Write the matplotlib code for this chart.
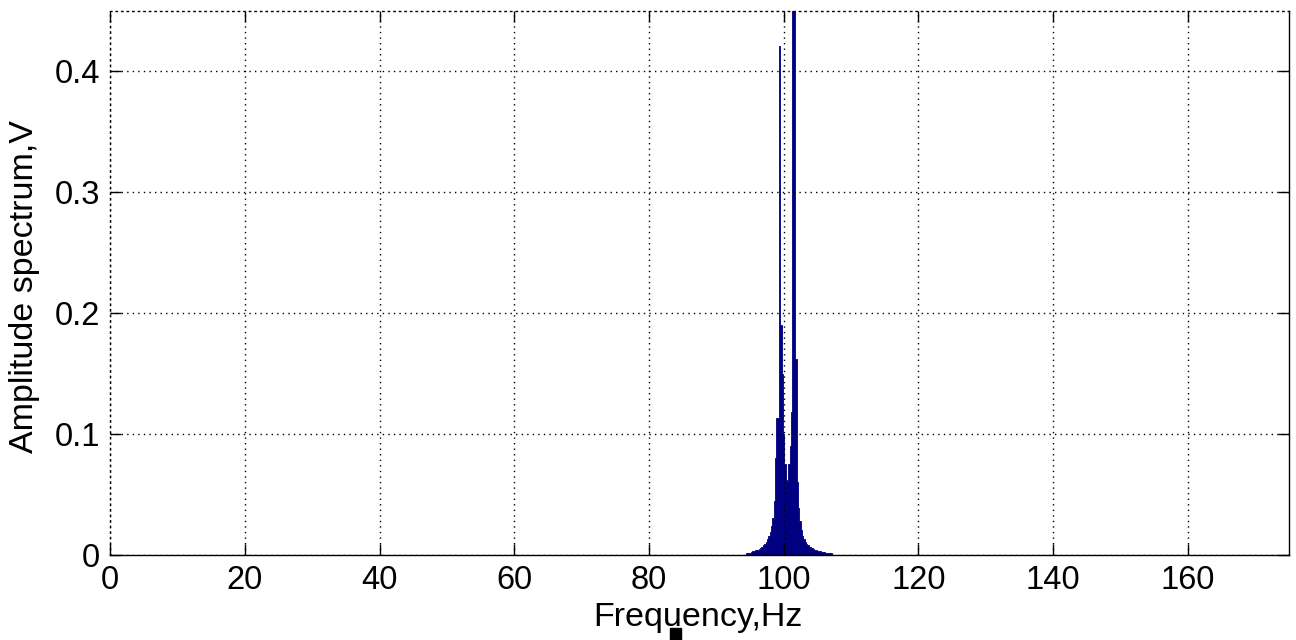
import matplotlib
matplotlib.use("Agg")
import matplotlib.pyplot as plt
from matplotlib.patches import Rectangle
import numpy as np

plt.rcParams["font.family"] = ["Liberation Sans", "DejaVu Sans"]

# amplitude spectrum around the 100 Hz carrier, 0.2 Hz bins
freq = np.round(np.arange(94.4, 107.21, 0.2), 1)
amp = [
    0.0015, 0.002, 0.002, 0.002, 0.0025, 0.003, 0.003, 0.004, 0.004, 0.0045,   # 94.4 - 96.2
    0.005, 0.006, 0.007, 0.008, 0.009, 0.011, 0.013, 0.016, 0.019, 0.024,       # 96.4 - 98.2
    0.031, 0.045, 0.080, 0.113, 0.113, 0.421, 0.190, 0.150, 0.100, 0.075,       # 98.4 - 100.2
    0.062, 0.061, 0.075, 0.090, 0.118, 0.700, 0.500, 0.162, 0.060, 0.039,       # 100.4 - 102.2
    0.028, 0.021, 0.016, 0.013, 0.011, 0.009, 0.008, 0.007, 0.0065, 0.006,      # 102.4 - 104.2
    0.005, 0.0045, 0.004, 0.0035, 0.003, 0.003, 0.0028, 0.0025, 0.0022, 0.002, # 104.4 - 106.2
    0.002, 0.0018, 0.0017, 0.0016, 0.0015,                                      # 106.4 - 107.2
]

xticks = [0, 20, 40, 60, 80, 100, 120, 140, 160]
yticks = [0, 0.1, 0.2, 0.3, 0.4]

fig = plt.figure(figsize=(12.96, 6.4), dpi=100)
ax = fig.add_axes([0.0849, 0.1328, 0.9097, 0.85])

ax.fill_between(freq, amp, step="mid", color="#000080", linewidth=0.6,
                edgecolor="#000080")

ax.set_xlim(0, 175)
ax.set_ylim(0, 0.45)
ax.set_xticks(xticks)
ax.set_yticks(yticks)
ax.set_xticklabels([str(t) for t in xticks])
ax.set_yticklabels(["0", "0.1", "0.2", "0.3", "0.4"])

ax.grid(True, color="black", linestyle=(0, (1, 3)), linewidth=1.0)
ax.tick_params(direction="in", length=8, width=1, labelsize=23.5, pad=7,
               top=True, right=True)

for side in ["bottom", "right"]:
    ax.spines[side].set_linewidth(1.0)
for side in ["left", "top"]:
    ax.spines[side].set_linestyle((0, (1, 3)))
    ax.spines[side].set_linewidth(1.0)

ax.set_xlabel("Frequency,Hz", fontsize=24.5, va="top")
ax.xaxis.set_label_coords(0.4987, -0.0857)
ax.set_ylabel("Amplitude spectrum,V", fontsize=24.5)
ax.yaxis.set_label_coords(-0.059, 0.494)

# small marker square under the axis label
fig.patches.append(Rectangle((670 / 1296, 0), 11 / 1296, 12 / 640,
                             transform=fig.transFigure, color="black"))

fig.savefig("out.png", dpi=100)
plt.close(fig)
